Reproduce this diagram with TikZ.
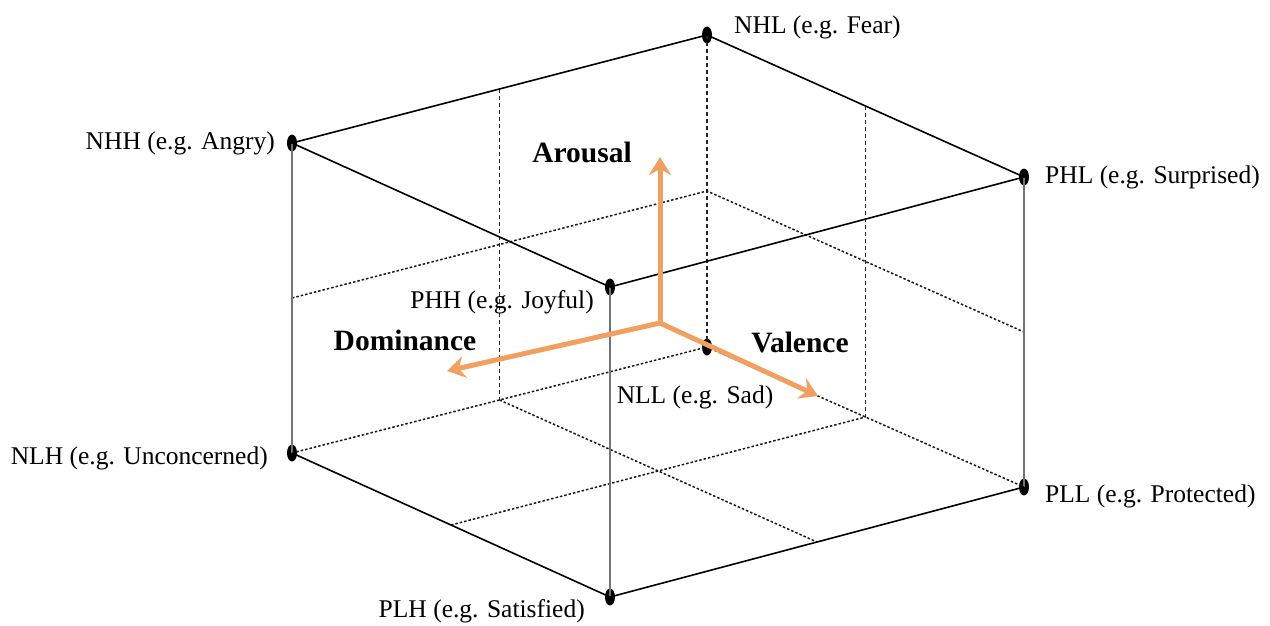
\documentclass[tikz,border=0pt]{standalone}
\usepackage{fontspec}
\setmainfont{Liberation Serif}
\usetikzlibrary{arrows.meta,calc,shapes.geometric}
\definecolor{axisorange}{RGB}{240,160,96}
\begin{document}
\begin{tikzpicture}[x=1pt, y=-1pt,
    vdot/.style={ellipse, fill=black, inner sep=0pt, minimum width=10pt, minimum height=17pt},
    lbl/.style={font=\fontsize{25.5}{28}\selectfont, inner sep=0pt},
    axlbl/.style={font=\fontsize{29.5}{32}\selectfont\bfseries, inner sep=0pt},
    edgestyle/.style={black, line width=1.6pt},
    vertstyle/.style={black!55, line width=1.5pt},
    hiddenvert/.style={black!85, line width=1.2pt, dash pattern=on 4pt off 3pt},
    hiddenline/.style={black!90, line width=1.5pt, dash pattern=on 2.5pt off 2pt},
    axisstyle/.style={axisorange, line width=5pt, -{Stealth[length=18pt, width=22pt, inset=6pt]}}
]
    \useasboundingbox (0,0) rectangle (1270,626);
    % Corners of the cube
    \node[vdot] (nhl) at (707,35) {};
    \node[vdot] (nhh) at (292,143) {};
    \node[vdot] (phl) at (1024,177) {};
    \node[vdot] (phh) at (610,287) {};
    \node[vdot] (nll) at (707,347) {};
    \node[vdot] (nlh) at (292,453) {};
    \node[vdot] (pll) at (1024,487) {};
    \node[vdot] (plh) at (610,597) {};
    % Midpoints for the hidden cuts
    \coordinate (mtl) at ($(nhh)!0.5!(nhl)$);
    \coordinate (mtr) at ($(nhl)!0.5!(phl)$);
    \coordinate (mbl) at ($(nlh)!0.5!(nll)$);
    \coordinate (mbr) at ($(nll)!0.5!(pll)$);
    \coordinate (mfl) at ($(nlh)!0.5!(plh)$);
    \coordinate (mfr) at ($(plh)!0.5!(pll)$);
    \coordinate (mhl) at ($(nhh)!0.5!(nlh)$);
    \coordinate (mhb) at ($(nhl)!0.5!(nll)$);
    \coordinate (mhr) at ($(phl)!0.5!(pll)$);
    % Hidden lines
    \draw[hiddenvert] (nhl.center) -- (nll.center);
    \draw[hiddenvert] (mtl) -- (mbl);
    \draw[hiddenvert] (mtr) -- (mbr);
    \draw[hiddenline] (nlh.center) -- (nll.center) -- (pll.center);
    \draw[hiddenline] (mhl) -- (mhb) -- (mhr);
    \draw[hiddenline] (mbl) -- (mfr);
    \draw[hiddenline] (mfl) -- (mbr);
    % Visible edges
    \draw[vertstyle] (nhh.center) -- (nlh.center);
    \draw[vertstyle] (phh.center) -- (plh.center);
    \draw[vertstyle] (phl.center) -- (pll.center);
    \draw[edgestyle] (nhh.center) -- (nhl.center) -- (phl.center) -- (phh.center) -- cycle;
    \draw[edgestyle] (nlh.center) -- (plh.center) -- (pll.center);
    % Corner labels
    \node[lbl, anchor=west] (nhltxt) at (734,27) {NHL (e.g. Fear)};
    \node[lbl, anchor=east] (nhhtxt) at (275,143) {NHH (e.g. Angry)};
    \node[lbl, anchor=west] (phltxt) at (1045,177) {PHL (e.g. Surprised)};
    \node[lbl, anchor=east] (phhtxt) at (594,302) {PHH (e.g. Joyful)};
    \node[lbl] (nlltxt) at (695,397) {NLL (e.g. Sad)};
    \node[lbl, anchor=east] (nlhtxt) at (268,458) {NLH (e.g. Unconcerned)};
    \node[lbl, anchor=west] (plltxt) at (1045,496) {PLL (e.g. Protected)};
    \node[lbl, anchor=east] (plhtxt) at (585,611) {PLH (e.g. Satisfied)};
    % Axes
    \coordinate (origin) at (660,323);
    \coordinate (uptip) at (660,157);
    \coordinate (lefttip) at (447,371);
    \coordinate (righttip) at (818,396);
    \draw[axisstyle] (origin) -- (uptip);
    \draw[axisstyle] (origin) -- (lefttip);
    \draw[axisstyle] (origin) -- (righttip);
    \node[axlbl] (arousal) at (582,152) {Arousal};
    \node[axlbl] (dominance) at (405,340) {Dominance};
    \node[axlbl] (valence) at (800,342) {Valence};
\end{tikzpicture}
\end{document}
